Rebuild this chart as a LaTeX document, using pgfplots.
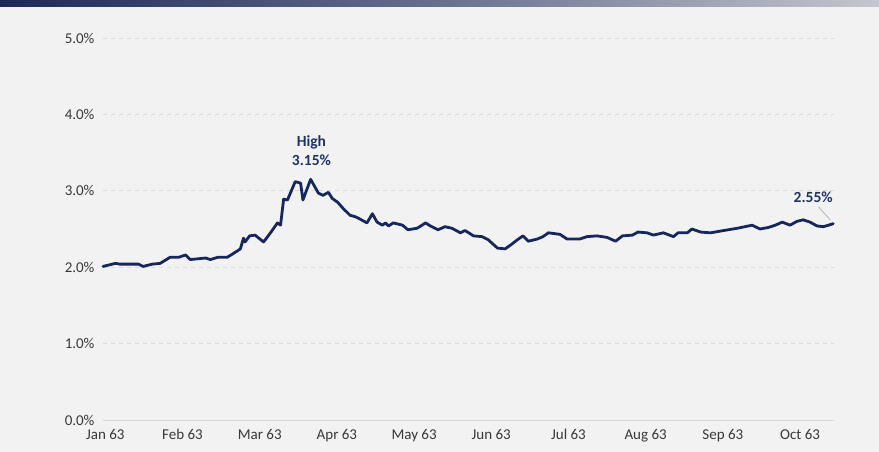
\documentclass[border=0pt]{standalone}
\usepackage{pgfplots}
\pgfplotsset{compat=1.18}
\usepackage{fontspec}
\setmainfont{Carlito}
\definecolor{bg}{HTML}{F2F2F2}
\definecolor{navy}{HTML}{16275C}
\definecolor{annot}{HTML}{1F3466}
\definecolor{ticktxt}{HTML}{383838}
\definecolor{gridc}{HTML}{D9D9D9}
\definecolor{barL}{HTML}{1C2858}
\definecolor{barR}{HTML}{C4C7CE}
\begin{document}
\begin{tikzpicture}[x=1pt,y=1pt]
\useasboundingbox (0,0) rectangle (879,452);
\fill[bg] (0,0) rectangle (879,452);
\shade[left color=barL, right color=barR, middle color=barL!55!barR] (0,445) rectangle (879,452);
\begin{axis}[
  at={(103pt,32pt)}, anchor=south west,
  scale only axis, width=731pt, height=382pt,
  xmin=-0.03, xmax=9.44, ymin=0, ymax=5,
  axis line style={draw=none},
  xtick={0,...,9},
  xticklabels={Jan 63,Feb 63,Mar 63,Apr 63,May 63,Jun 63,Jul 63,Aug 63,Sep 63,Oct 63},
  ytick={0,1,2,3,4,5},
  yticklabel={\pgfmathprintnumber[fixed,fixed zerofill,precision=1]{\tick}\%},
  /pgf/number format/assume math mode=true,
  tick style={draw=none},
  ticklabel style={font=\fontsize{15}{18}\selectfont, text=ticktxt},
  xticklabel style={yshift=-6pt},
  yticklabel style={xshift=-5pt},
  clip=false,
]
\draw[gridc, line width=0.8pt] (axis cs:-0.03,0) -- (axis cs:9.44,0);
\foreach \yy in {1,2,3,4,5}{
  \edef\tmp{\noexpand\draw[gridc, line width=0.8pt, dash pattern=on 4pt off 4pt] (axis cs:-0.03,\yy) -- (axis cs:9.44,\yy);}
  \tmp
}
\addplot[navy, line width=2.8pt, line join=round, line cap=round] coordinates {
(-0.03,2.01) (0.13,2.05) (0.19,2.04) (0.43,2.04) (0.49,2.01) (0.61,2.04) (0.71,2.05)
(0.84,2.13) (0.95,2.13) (1.04,2.16) (1.10,2.10) (1.30,2.12) (1.36,2.10) (1.46,2.13)
(1.58,2.13) (1.66,2.18) (1.75,2.24) (1.79,2.38) (1.81,2.33) (1.87,2.41) (1.94,2.42)
(2.05,2.33) (2.14,2.45) (2.23,2.58) (2.27,2.55) (2.31,2.89) (2.36,2.88) (2.46,3.12)
(2.53,3.10) (2.56,2.88) (2.66,3.15) (2.76,2.97) (2.82,2.94) (2.89,2.98) (2.94,2.90)
(3.01,2.85) (3.08,2.77) (3.17,2.68) (3.24,2.66) (3.28,2.64) (3.39,2.58) (3.46,2.70)
(3.52,2.59) (3.59,2.55) (3.63,2.58) (3.67,2.54) (3.73,2.58) (3.85,2.55) (3.92,2.49)
(4.04,2.51) (4.15,2.58) (4.21,2.54) (4.31,2.49) (4.40,2.53) (4.49,2.51) (4.60,2.45)
(4.66,2.48) (4.77,2.41) (4.88,2.40) (4.96,2.36) (5.08,2.25) (5.18,2.24) (5.25,2.29)
(5.34,2.36) (5.41,2.41) (5.48,2.34) (5.60,2.37) (5.67,2.40) (5.74,2.45) (5.89,2.43)
(5.98,2.37) (6.15,2.37) (6.24,2.40) (6.37,2.41) (6.50,2.39) (6.61,2.34) (6.70,2.41)
(6.83,2.42) (6.90,2.46) (7.02,2.45) (7.10,2.42) (7.23,2.45) (7.36,2.40) (7.42,2.45)
(7.54,2.45) (7.60,2.50) (7.71,2.46) (7.84,2.45) (8.01,2.48) (8.19,2.51) (8.38,2.55)
(8.48,2.50) (8.59,2.52) (8.68,2.55) (8.77,2.59) (8.87,2.55) (8.96,2.60) (9.04,2.62)
(9.13,2.59) (9.22,2.54) (9.30,2.53) (9.37,2.55) (9.43,2.57)
};
\node[font=\fontsize{15.5}{18}\bfseries, text=annot] at (axis cs:2.67,3.63) {High};
\node[font=\fontsize{15.5}{18}\bfseries, text=annot] at (axis cs:2.67,3.40) {3.15\%};
\node[font=\fontsize{15.5}{18}\bfseries, text=annot] at (axis cs:9.17,2.91) {2.55\%};
\draw[gray!70, line width=0.6pt] (axis cs:9.24,2.79) -- (axis cs:9.39,2.62);
\end{axis}
\end{tikzpicture}
\end{document}
